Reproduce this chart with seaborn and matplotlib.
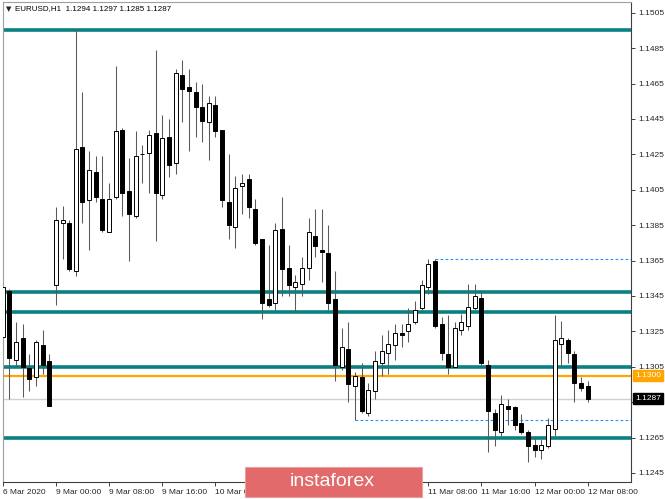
import pandas as pd
import seaborn as sns
import matplotlib.pyplot as plt
from matplotlib.patches import Rectangle
from matplotlib.transforms import blended_transform_factory

# EURUSD H1 candles, 6 Mar 2020 16:00 .. 12 Mar 2020 08:00
opens = [
    1.1322, 1.1348, 1.1309, 1.1321, 1.1304, 1.1299, 1.1317, 1.1308,
    1.1351, 1.1386, 1.1386, 1.1359, 1.1429, 1.1399, 1.1415, 1.1400,
    1.1381, 1.1401, 1.1439, 1.1404, 1.1390, 1.1425, 1.1426, 1.1437,
    1.1402, 1.1435, 1.1420, 1.1470, 1.1463, 1.1460, 1.1452, 1.1443,
    1.1453, 1.1439, 1.1398, 1.1384, 1.1407, 1.1411, 1.1394, 1.1377,
    1.1343, 1.1341, 1.1383, 1.1361, 1.1350, 1.1352, 1.1361, 1.1379,
    1.1371, 1.1369, 1.1343, 1.1305, 1.1315, 1.1294, 1.1299, 1.1279,
    1.1291, 1.1307, 1.1313, 1.1317, 1.1324, 1.1325, 1.1330, 1.1338,
    1.1350, 1.1365, 1.1329, 1.1312, 1.1305, 1.1326, 1.1328, 1.1338,
    1.1344, 1.1306, 1.1279, 1.1268, 1.1283, 1.1282, 1.1273, 1.1268,
    1.1261, 1.1258, 1.1260, 1.1270, 1.1318, 1.1320, 1.1312, 1.1296,
    1.1294,
]
highs = [
    1.1355, 1.1349, 1.1330, 1.1329, 1.1312, 1.1320, 1.1326, 1.1312,
    1.1395, 1.1396, 1.1388, 1.1496, 1.1460, 1.1427, 1.1424, 1.1424,
    1.1409, 1.1475, 1.1440, 1.1423, 1.1438, 1.1430, 1.1439, 1.1484,
    1.1447, 1.1445, 1.1473, 1.1478, 1.1473, 1.1466, 1.1465, 1.1458,
    1.1458, 1.1439, 1.1425, 1.1413, 1.1414, 1.1414, 1.1400, 1.1377,
    1.1374, 1.1386, 1.1401, 1.1374, 1.1357, 1.1367, 1.1389, 1.1394,
    1.1394, 1.1385, 1.1359, 1.1327, 1.1330, 1.1302, 1.1307, 1.1296,
    1.1314, 1.1323, 1.1326, 1.1329, 1.1329, 1.1338, 1.1342, 1.1354,
    1.1366, 1.1366, 1.1333, 1.1334, 1.1330, 1.1335, 1.1352, 1.1352,
    1.1348, 1.1309, 1.1281, 1.1289, 1.1287, 1.1283, 1.1278, 1.1269,
    1.1265, 1.1264, 1.1276, 1.1334, 1.1331, 1.1321, 1.1314, 1.1299,
    1.1297,
]
lows = [
    1.1317, 1.1287, 1.1305, 1.1288, 1.1291, 1.1294, 1.1301, 1.1283,
    1.1340, 1.1366, 1.1359, 1.1356, 1.1386, 1.1371, 1.1398, 1.1381,
    1.1381, 1.1400, 1.1390, 1.1365, 1.1389, 1.1409, 1.1403, 1.1376,
    1.1400, 1.1412, 1.1414, 1.1443, 1.1427, 1.1435, 1.1432, 1.1422,
    1.1435, 1.1395, 1.1377, 1.1372, 1.1391, 1.1389, 1.1374, 1.1332,
    1.1339, 1.1337, 1.1345, 1.1345, 1.1336, 1.1345, 1.1354, 1.1367,
    1.1353, 1.1337, 1.1297, 1.1303, 1.1285, 1.1275, 1.1279, 1.1277,
    1.1287, 1.1300, 1.1301, 1.1309, 1.1316, 1.1319, 1.1329, 1.1337,
    1.1346, 1.1327, 1.1309, 1.1301, 1.1305, 1.1323, 1.1326, 1.1337,
    1.1306, 1.1257, 1.1260, 1.1266, 1.1272, 1.1269, 1.1267, 1.1251,
    1.1254, 1.1253, 1.1259, 1.1266, 1.1306, 1.1307, 1.1285, 1.1291,
    1.1285,
]
closes = [
    1.1350, 1.1310, 1.1319, 1.1305, 1.1298, 1.1319, 1.1306, 1.1283,
    1.1388, 1.1388, 1.1360, 1.1428, 1.1398, 1.1416, 1.1401, 1.1382,
    1.1400, 1.1438, 1.1403, 1.1391, 1.1424, 1.1425, 1.1436, 1.1403,
    1.1434, 1.1419, 1.1471, 1.1462, 1.1461, 1.1452, 1.1444, 1.1454,
    1.1438, 1.1399, 1.1385, 1.1406, 1.1409, 1.1395, 1.1375, 1.1341,
    1.1340, 1.1382, 1.1360, 1.1351, 1.1353, 1.1361, 1.1381, 1.1373,
    1.1370, 1.1341, 1.1306, 1.1316, 1.1295, 1.1300, 1.1280, 1.1292,
    1.1308, 1.1314, 1.1318, 1.1324, 1.1323, 1.1329, 1.1337, 1.1351,
    1.1363, 1.1328, 1.1313, 1.1305, 1.1327, 1.1330, 1.1339, 1.1345,
    1.1307, 1.1280, 1.1269, 1.1284, 1.1281, 1.1272, 1.1268, 1.1260,
    1.1258, 1.1261, 1.1272, 1.1320, 1.1321, 1.1313, 1.1296, 1.1293,
    1.1287,
]

tick_bars = [0, 8, 16, 24, 32, 40, 48, 56, 64, 72, 80, 88]
# labels under the logo are hidden in the source, so left blank
tick_labels = [
    "6 Mar 2020", "9 Mar 00:00", "9 Mar 08:00", "9 Mar 16:00",
    "10 Mar 00:00", "", "", "",
    "11 Mar 08:00", "11 Mar 16:00", "12 Mar 00:00", "12 Mar 08:00",
]
price_ticks = [1.1245, 1.1265, 1.1285, 1.1305, 1.1325, 1.1345, 1.1365,
               1.1385, 1.1405, 1.1425, 1.1445, 1.1465, 1.1485, 1.1505]
hidden_ticks = [1.1285]  # covered by the bid box

teal_levels = [1.1495, 1.1347, 1.1336, 1.1305, 1.1265]
orange_level = 1.1300
bid_level = 1.1287
dashed_levels = [1.1366, 1.1275]
dashed_from = [65, 53]

sns.set_theme(style="white")
plt.rcParams["font.family"] = ["Liberation Sans", "DejaVu Sans"]

df = pd.DataFrame({"open": opens, "high": highs, "low": lows, "close": closes})
df["bar"] = range(len(df))
up = df[df.close >= df.open]
down = df[df.close < df.open]

W, H = 665, 499
fig = plt.figure(figsize=(W / 100, H / 100), dpi=100)
ax = fig.add_axes([2.5 / W, 1 - 482 / H, (631 - 2.5) / W, (482 - 1.5) / H])

# levels (drawn behind the candles)
for lv in teal_levels:
    ax.axhline(lv, color="#0b8080", lw=2.6, zorder=1)
ax.axhline(orange_level, color="#ffa500", lw=1.6, zorder=1)
ax.axhline(bid_level, color="#d0d0d0", lw=1.0, zorder=1)
for lv, start in zip(dashed_levels, dashed_from):
    ax.hlines(lv, start, 100, color="#2f8fff", lw=0.8, linestyles=(0, (2.5, 2)), zorder=1)

# candles
ax.vlines(df.bar, df.low, df.high, color="#5a5a5a", lw=0.75, zorder=2)
ax.bar(up.bar, up.close - up.open, bottom=up.open, width=0.6,
       color="white", edgecolor="black", linewidth=0.7, zorder=3)
ax.bar(down.bar, down.close - down.open, bottom=down.open, width=0.6,
       color="black", edgecolor="black", linewidth=0.7, zorder=3)

ax.set_xlim(-0.03, 94.5)
ax.set_ylim(1.123986, 1.151133)

ax.yaxis.tick_right()
ax.set_yticks(price_ticks)
ax.set_yticklabels(["" if p in hidden_ticks else f"{p:.4f}" for p in price_ticks])
ax.set_xticks(tick_bars)
ax.set_xticklabels(tick_labels)
for lab in ax.get_xticklabels():
    lab.set_horizontalalignment("left")
ax.tick_params(axis="x", direction="out", length=3, width=0.7, color="#404040",
               labelsize=6, pad=2, bottom=True)
ax.tick_params(axis="y", direction="out", length=3, width=0.7, color="#404040",
               labelsize=6, pad=2, right=True)

for side in ["left", "top"]:
    ax.spines[side].set_color("#a0a0a0")
    ax.spines[side].set_linewidth(0.8)
for side in ["right", "bottom"]:
    ax.spines[side].set_color("#404040")
    ax.spines[side].set_linewidth(0.8)

# price boxes on the axis
tr = blended_transform_factory(ax.transAxes, ax.transData)
ax.text(1.0 + 4 / 628.5, orange_level, "1.1300", transform=tr, ha="left", va="center",
        fontsize=6, color="white",
        bbox=dict(boxstyle="square,pad=0.25", fc="#ffa500", ec="#ffa500"), zorder=5)
ax.text(1.0 + 4 / 628.5, bid_level, "1.1287", transform=tr, ha="left", va="center",
        fontsize=6, color="white",
        bbox=dict(boxstyle="square,pad=0.25", fc="black", ec="black"), zorder=5)

# header
fig.text(6 / W, 1 - 9 / H, "\u25bc", fontsize=5, va="center", ha="left",
         family=["DejaVu Sans"])
fig.text(15 / W, 1 - 9 / H, "EURUSD,H1  1.1294 1.1297 1.1285 1.1287",
         fontsize=5.8, va="center", ha="left", color="black")

# logo
fig.patches.append(Rectangle((245 / W, 1 - 497 / H), 177 / W, 30 / H,
                             transform=fig.transFigure, fc="#e26a6a",
                             ec="#eaa0a0", lw=0.8, zorder=10))
fig.text(332 / W, 1 - 482 / H, "instaforex", fontsize=14, color="white",
         ha="center", va="center", zorder=11)

fig.savefig("out.png", dpi=100)
